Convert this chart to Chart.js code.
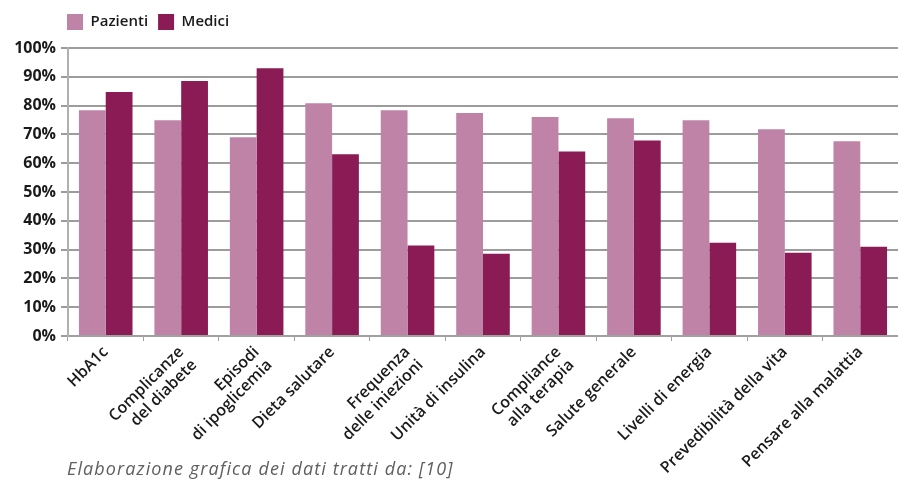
<!DOCTYPE html>
<html>
<head>
<meta charset="utf-8">
<script src="https://cdn.jsdelivr.net/npm/chart.js@4"></script>
<style>
  html, body { margin: 0; padding: 0; background: #fff; }
  #wrap { position: relative; width: 898px; height: 482px; }
  #caption {
    position: absolute; left: 67px; top: 456px;
    font-family: "Open Sans", sans-serif; font-style: italic; font-weight: 400;
    font-size: 18px; letter-spacing: 1.1px; color: #5e5e5e; white-space: nowrap;
  }
</style>
</head>
<body>
<div id="wrap">
  <canvas id="chart" width="898" height="482"></canvas>
  <div id="caption">Elaborazione grafica dei dati tratti da: [10]</div>
</div>
<script>
// categorie (asse x), etichette su più righe dove serve
const categories = [
  'HbA1c',
  ['Complicanze', 'del diabete'],
  ['Episodi', 'di ipoglicemia'],
  'Dieta salutare',
  ['Frequenza', 'delle iniezioni'],
  'Unità di insulina',
  ['Compliance', 'alla terapia'],
  'Salute generale',
  'Livelli di energia',
  'Prevedibilità della vita',
  'Pensare alla malattia'
];

// valori in percentuale
const pazienti = [78.4, 74.9, 69.0, 80.8, 78.4, 77.4, 76.0, 75.6, 74.9, 71.8, 67.6];
const medici   = [84.7, 88.5, 93.0, 63.1, 31.4, 28.6, 64.1, 67.9, 32.4, 28.9, 31.0];

const yTicks = [0, 10, 20, 30, 40, 50, 60, 70, 80, 90, 100];

// legenda allineata all'asse y e un po' di spazio sotto
const legendShift = {
  id: 'legendShift',
  beforeInit(chart) {
    const fit = chart.legend.fit;
    chart.legend.fit = function () {
      fit.call(this);
      this.height += 8;
    };
  },
  afterLayout(chart) {
    chart.legend.left = 57;
  }
};

const ctx = document.getElementById('chart').getContext('2d');

new Chart(ctx, {
  type: 'bar',
  data: {
    labels: categories,
    datasets: [
      {
        label: 'Pazienti',
        data: pazienti,
        backgroundColor: '#bf83a8'
      },
      {
        label: 'Medici',
        data: medici,
        backgroundColor: '#8a1b55'
      }
    ]
  },
  options: {
    responsive: false,
    animation: false,
    layout: { padding: { left: 4, right: 0, top: 4, bottom: 0 } },
    plugins: {
      legend: {
        position: 'top',
        align: 'start',
        labels: {
          boxWidth: 16,
          boxHeight: 16,
          padding: 10,
          color: '#1a1a1a',
          font: { family: 'Open Sans', size: 15, weight: '600' }
        }
      },
      tooltip: { enabled: false }
    },
    datasets: {
      bar: { categoryPercentage: 0.71, barPercentage: 1.0 }
    },
    scales: {
      x: {
        afterFit(axis) {
          axis.height = 146;
        },
        grid: {
          offset: true,
          drawOnChartArea: false,
          drawTicks: true,
          tickLength: 5,
          color: '#a0a0a0',
          lineWidth: 1
        },
        border: { color: '#a0a0a0', width: 2 },
        ticks: {
          minRotation: 45,
          maxRotation: 45,
          autoSkip: false,
          color: '#1a1a1a',
          padding: 2,
          font: { family: 'Open Sans', size: 16, weight: '600', lineHeight: 1.15 }
        }
      },
      y: {
        min: 0,
        max: 100,
        afterFit(axis) {
          axis.width = 64;
        },
        afterBuildTicks(axis) {
          axis.ticks = yTicks.map(v => ({ value: v }));
        },
        grid: {
          color: '#9c9c9c',
          lineWidth: 2,
          drawTicks: true,
          tickLength: 7
        },
        border: { color: '#b0b0b0', width: 2 },
        ticks: {
          color: '#1a1a1a',
          padding: 5,
          font: { family: 'Open Sans', size: 16, weight: '700' },
          callback: v => v + '%'
        }
      }
    }
  },
  plugins: [legendShift]
});
</script>
</body>
</html>
